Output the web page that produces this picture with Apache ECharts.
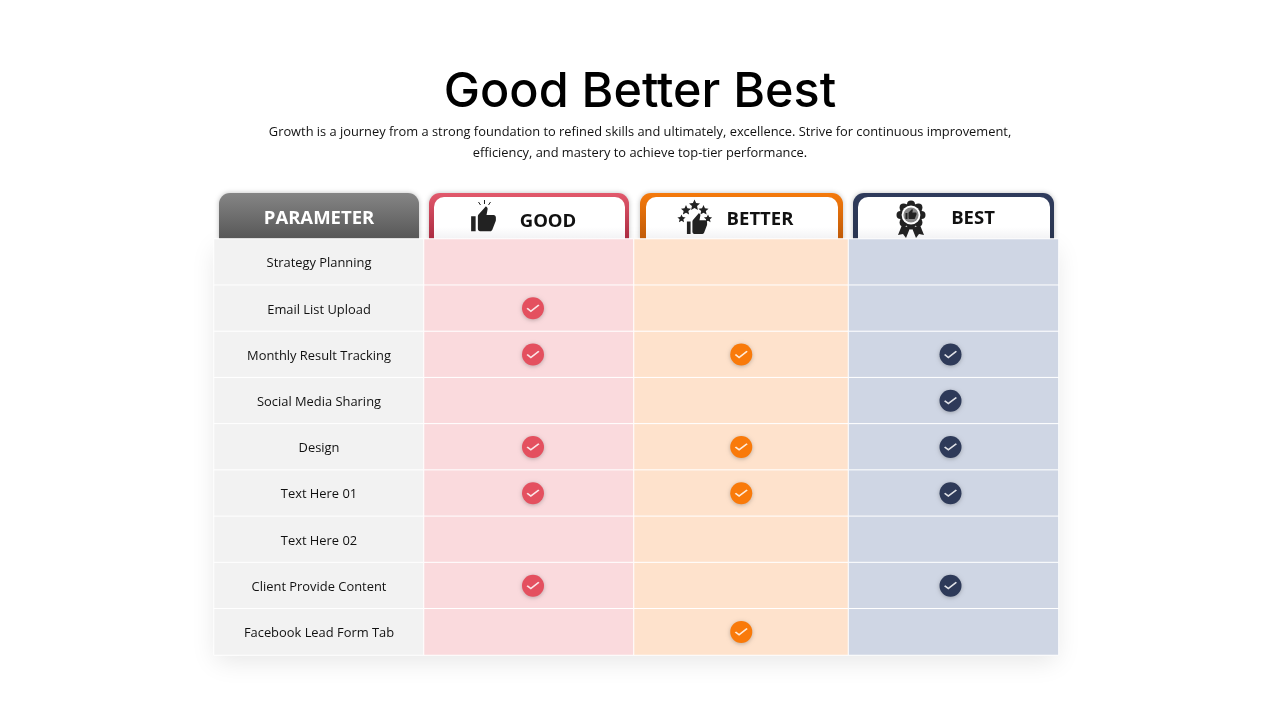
<!DOCTYPE html>
<html>
<head>
<meta charset="utf-8">
<title>Good Better Best</title>
<script src="https://cdn.jsdelivr.net/npm/echarts@6/dist/echarts.min.js"></script>
<style>
html, body { margin: 0; padding: 0; background: #fff; }
#main { width: 1280px; height: 720px; }
</style>
</head>
<body>
<div id="main"></div>
<script>
var parameters = ['Strategy Planning', 'Email List Upload', 'Monthly Result Tracking', 'Social Media Sharing',
	'Design', 'Text Here 01', 'Text Here 02', 'Client Provide Content', 'Facebook Lead Form Tab'];
var tiers = ['PARAMETER', 'GOOD', 'BETTER', 'BEST'];
var goodChecks = ['Email List Upload', 'Monthly Result Tracking', 'Design', 'Text Here 01', 'Client Provide Content'];
var betterChecks = ['Monthly Result Tracking', 'Design', 'Text Here 01', 'Facebook Lead Form Tab'];
var bestChecks = ['Monthly Result Tracking', 'Social Media Sharing', 'Design', 'Text Here 01', 'Client Provide Content'];

var chart = echarts.init(document.getElementById('main'));

var FONT = '"Open Sans", "Noto Sans", sans-serif';
var CHECK_PATH = 'path://M1 6 L2.2 4.8 L5 7.6 L11.8 0.8 L13 2 L5 10 Z';
var ICON = '#222222';

// both icons are drawn in a 24x24 box
echarts.graphic.registerShape('thumb', echarts.graphic.extendPath('M1 21h4V9H1v12zm22-11c0-1.1-.9-2-2-2h-6.31l.95-4.57.03-.32c0-.41-.17-.79-.44-1.06L14.17 1 7.59 7.59C7.22 7.95 7 8.45 7 9v10c0 1.1.9 2 2 2h9c.83 0 1.54-.5 1.84-1.22l3.02-7.05c.09-.23.14-.47.14-.73v-2z', {}));
echarts.graphic.registerShape('star', echarts.graphic.extendPath('M12 1l3.2 7.2 7.8.8-5.9 5.2 1.7 7.7L12 18l-6.8 3.9 1.7-7.7L1 9l7.8-.8z', {}));

// layout of the four columns, left edge and width in pixels
var columns = [
	{left: 214, width: 210, color: '#F2F2F2'},
	{left: 424, width: 210, color: '#FADADD', check: '#E4505F', checks: goodChecks, shift: 4},
	{left: 634, width: 214.5, color: '#FEE2CC', check: '#F97A0A', checks: betterChecks, shift: 0},
	{left: 848.5, width: 210, color: '#CFD6E4', check: '#2E3A59', checks: bestChecks, shift: -3}
];

function vGrad(top, bottom) {
	return new echarts.graphic.LinearGradient(0, 0, 0, 1, [
		{offset: 0, color: top},
		{offset: 1, color: bottom}
	]);
}

function headerBox(x, w, top, bottom) {
	return {
		type: 'rect', z: 1,
		shape: {x: x, y: 193, width: w, height: 47, r: [11, 11, 0, 0]},
		style: {fill: vGrad(top, bottom), shadowBlur: 5, shadowColor: 'rgba(0,0,0,0.25)'}
	};
}

function headerInner(x, w) {
	return {
		type: 'rect', z: 2,
		shape: {x: x, y: 197, width: w, height: 43, r: [10, 10, 0, 0]},
		style: {fill: new echarts.graphic.LinearGradient(0, 0, 0, 1, [
			{offset: 0, color: '#FFFFFF'},
			{offset: 0.7, color: '#FFFFFF'},
			{offset: 1, color: '#F1F1F3'}
		])}
	};
}

function headerText(text, cx, cy, color, size) {
	return {
		type: 'text', z: 5,
		style: {
			x: cx, y: cy, text: text, fill: color, align: 'center', verticalAlign: 'middle',
			font: 'bold ' + size + 'px ' + FONT
		}
	};
}

function icon(type, x, y, w, h, fill) {
	return {
		type: type, z: 5,
		x: x, y: y, scaleX: w / 24, scaleY: h / 24,
		style: {fill: fill || ICON}
	};
}

function star(cx, cy, size) {
	return icon('star', cx - size / 2, cy - size / 2, size, size);
}

function spark(x1, y1, x2, y2) {
	return {
		type: 'line', z: 5,
		shape: {x1: x1, y1: y1, x2: x2, y2: y2},
		style: {stroke: ICON, lineWidth: 1}
	};
}

function badgeIcon() {
	var cx = 911, cy = 215, items = [];
	// ribbons go under the seal
	items.push({type: 'polygon', z: 5, shape: {points: [[902, 225], [898, 235], [903, 234], [906, 238], [910, 228]]}, style: {fill: ICON}});
	items.push({type: 'polygon', z: 5, shape: {points: [[920, 225], [924, 235], [919, 234], [916, 238], [912, 228]]}, style: {fill: ICON}});
	for (var i = 0; i < 8; i++) {
		var a = i / 8 * Math.PI * 2;
		items.push({
			type: 'circle', z: 5,
			shape: {cx: cx + Math.cos(a) * 10.5, cy: cy + Math.sin(a) * 10.5, r: 4},
			style: {fill: ICON}
		});
	}
	items.push({type: 'circle', z: 5, shape: {cx: cx, cy: cy, r: 11.5}, style: {fill: ICON}});
	items.push({type: 'circle', z: 5, shape: {cx: cx, cy: cy, r: 9.4}, style: {fill: '#FFFFFF'}});
	items.push({type: 'circle', z: 5, shape: {cx: cx, cy: cy, r: 7.6}, style: {fill: '#8A8A8A'}});
	items.push(icon('thumb', cx - 6, cy - 6.5, 12, 12, ICON));
	return items;
}

var graphics = [
	// soft shadow under the whole table
	{
		type: 'rect', z: 0,
		shape: {x: 216, y: 241, width: 840, height: 412},
		style: {fill: '#FFFFFF', shadowBlur: 24, shadowOffsetY: 8, shadowColor: 'rgba(0,0,0,0.10)'}
	},
	headerBox(219, 200, '#858585', '#565656'),
	headerBox(429, 200, '#E2596C', '#A92A40'),
	headerInner(434, 191),
	headerBox(640, 203, '#F57A0C', '#BF5A08'),
	headerInner(646, 192),
	headerBox(853, 201, '#2F3B5C', '#2A3550'),
	headerInner(858, 192),
	headerText(tiers[0], 319, 219, '#FFFFFF', 18.5),
	headerText(tiers[1], 548, 222, '#111111', 18.5),
	headerText(tiers[2], 760, 220, '#111111', 18.5),
	headerText(tiers[3], 973, 219, '#111111', 18.5),
	// thumb icon of GOOD
	icon('thumb', 470, 205, 27, 30),
	spark(478.5, 202, 480.5, 205),
	spark(484.5, 200, 484.5, 204),
	spark(490.5, 202, 488.5, 205),
	// thumb and stars of BETTER
	icon('thumb', 686, 212, 22, 25),
	star(694.5, 205, 12),
	star(686, 210, 11),
	star(703.5, 210, 11),
	star(681.5, 218.5, 9),
	star(708, 218.5, 9)
].concat(badgeIcon());

var grids = [], xAxes = [], yAxes = [], series = [];

columns.forEach(function (col, c) {
	grids.push({left: col.left, width: col.width, top: 239, height: 416});
	xAxes.push({type: 'category', gridIndex: c, data: [tiers[c]], show: false});
	yAxes.push({type: 'category', gridIndex: c, data: parameters, inverse: true, show: false});

	series.push({
		type: 'heatmap',
		xAxisIndex: c,
		yAxisIndex: c,
		data: parameters.map(function (p) { return [tiers[c], p, 1]; }),
		itemStyle: {color: col.color, borderColor: '#FFFFFF', borderWidth: 1},
		emphasis: {disabled: true},
		label: {
			show: c === 0,
			color: '#111111',
			fontFamily: FONT,
			fontSize: 12.9,
			offset: [0, 1.5],
			formatter: function (params) { return params.value[1]; }
		},
		silent: true
	});

	if (!col.checks) return;

	var points = col.checks.map(function (p) { return [tiers[c], p]; });
	series.push({
		type: 'scatter',
		xAxisIndex: c,
		yAxisIndex: c,
		data: points,
		symbol: 'circle',
		symbolSize: 22,
		symbolOffset: [col.shift, 0],
		z: 3,
		itemStyle: {color: col.check, opacity: 1, shadowBlur: 4, shadowOffsetY: 1, shadowColor: 'rgba(0,0,0,0.25)'},
		silent: true
	});
	series.push({
		type: 'scatter',
		xAxisIndex: c,
		yAxisIndex: c,
		data: points,
		symbol: CHECK_PATH,
		symbolSize: [13, 10],
		symbolKeepAspect: true,
		symbolOffset: [col.shift, 0],
		z: 4,
		itemStyle: {color: '#FFFFFF', opacity: 0.85},
		silent: true
	});
});

chart.setOption({
	animation: false,
	backgroundColor: '#FFFFFF',
	title: [{
		text: 'Good Better Best',
		left: 'center',
		top: 63,
		textStyle: {fontFamily: 'Inter, sans-serif', fontWeight: 500, fontSize: 48.5, color: '#000000'}
	}, {
		text: 'Growth is a journey from a strong foundation to refined skills and ultimately, excellence. Strive for continuous improvement,\nefficiency, and mastery to achieve top-tier performance.',
		left: 635,
		top: 117,
		textAlign: 'center',
		textStyle: {fontFamily: FONT, fontWeight: 400, fontSize: 12.85, lineHeight: 21, color: '#111111', align: 'center'}
	}],
	grid: grids,
	xAxis: xAxes,
	yAxis: yAxes,
	series: series,
	graphic: graphics
});

window.addEventListener('resize', function () {
	chart.resize();
});
</script>
</body>
</html>
